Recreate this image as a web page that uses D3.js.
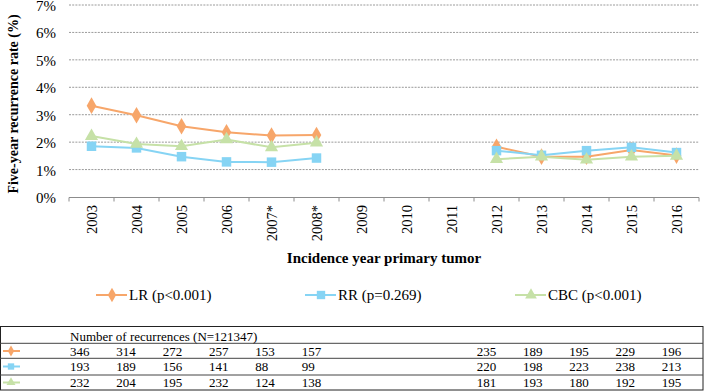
<!DOCTYPE html>
<html><head><meta charset="utf-8">
<script src="https://cdn.jsdelivr.net/npm/d3@7"></script>
<style>body{margin:0;background:#fff}svg{display:block}</style>
</head><body><svg id="c" width="708" height="391" font-family="Liberation Serif, Times New Roman, Times, DejaVu Serif, serif"></svg>
<script>
const years = ["2003","2004","2005","2006","2007*","2008*","2009","2010","2011","2012","2013","2014","2015","2016"];
const yTicks = [0,0.01,0.02,0.03,0.04,0.05,0.06,0.07];
const lrRate  = [3.33,2.98,2.58,2.36,2.24,2.26,null,null,null,1.83,1.47,1.47,1.71,1.51];
const rrRate  = [1.85,1.79,1.47,1.28,1.27,1.42,null,null,null,1.69,1.52,1.69,1.81,1.62];
const cbcRate = [2.22,1.93,1.85,2.10,1.81,1.98,null,null,null,1.38,1.47,1.36,1.47,1.50];
const lrCount  = [346,314,272,257,153,157,null,null,null,235,189,195,229,196];
const rrCount  = [193,189,156,141,88,99,null,null,null,220,198,223,238,213];
const cbcCount = [232,204,195,232,124,138,null,null,null,181,193,180,192,195];
const seriesNames = ["LR (p<0.001)","RR (p=0.269)","CBC (p<0.001)"];
const tableTitle = "Number of recurrences (N=121347)";
const colors = ["#F7A66A","#86D4F4","#C6E1A7"];
const shapes = [d3.symbolDiamond, d3.symbolSquare, d3.symbolTriangle];
const rates = [lrRate, rrRate, cbcRate];
const counts = [lrCount, rrCount, cbcCount];

const svg = d3.select("#c");
const x = d3.scaleBand().domain(years).range([69,699]).padding(0);
const y = d3.scaleLinear().domain([0,0.07]).range([197,5]);

// gridlines
svg.append("g").selectAll("line").data(yTicks.slice(1)).join("line")
  .attr("x1",69).attr("x2",699).attr("y1",d=>y(d)).attr("y2",d=>y(d))
  .attr("stroke","#9a9a9a").attr("stroke-width",1).attr("stroke-dasharray","2,1.2");

// y labels
svg.append("g").selectAll("text").data(yTicks).join("text")
  .attr("x",56).attr("y",d=>y(d)).attr("dy","0.4em").attr("text-anchor","end")
  .attr("font-size",15).text(d=>d3.format(".0%")(d));

// x axis
const xa = svg.append("g").attr("transform","translate(0,197.5)");
xa.append("line").attr("x1",69).attr("x2",699).attr("stroke","#8c8c8c");
xa.selectAll("line.t").data(d3.range(years.length+1)).join("line").attr("class","t")
  .attr("x1",i=>69+i*x.bandwidth()).attr("x2",i=>69+i*x.bandwidth()).attr("y1",0).attr("y2",4)
  .attr("stroke","#8c8c8c");
svg.append("g").selectAll("text").data(years).join("text")
  .attr("transform",d=>`translate(${x(d)+x.bandwidth()/2},205) rotate(-90)`)
  .attr("dy","0.35em").attr("text-anchor","end").attr("font-size",14.5).text(d=>d);

// titles
svg.append("text").attr("x",384).attr("y",263).attr("text-anchor","middle")
  .attr("font-size",15).attr("font-weight","bold").text("Incidence year primary tumor");
svg.append("text").attr("transform","translate(13,104) rotate(-90)").attr("dy","0.35em")
  .attr("text-anchor","middle").attr("font-size",14).attr("font-weight","bold")
  .text("Five-year recurrence rate (%)");

// series
const cx = i => x(years[i]) + x.bandwidth()/2;
rates.forEach((r,s)=>{
  const pts = r.map((v,i)=>({i,v}));
  const line = d3.line().defined(d=>d.v!==null).x(d=>cx(d.i)).y(d=>y(d.v/100));
  svg.append("path").datum(pts).attr("d",line).attr("fill","none")
    .attr("stroke",colors[s]).attr("stroke-width",2);
  svg.append("g").selectAll("path").data(pts.filter(d=>d.v!==null)).join("path")
    .attr("transform",d=>`translate(${cx(d.i)},${y(d.v/100)})`)
    .attr("d",d3.symbol().type(shapes[s]).size(s===1?90:(s===0?80:75)))
    .attr("fill",colors[s]);
});

// legend
const legX = [96,305,515];
seriesNames.forEach((n,s)=>{
  const g = svg.append("g").attr("transform",`translate(${legX[s]},295)`);
  g.append("line").attr("x1",0).attr("x2",31).attr("stroke",colors[s]).attr("stroke-width",2);
  g.append("path").attr("transform","translate(16,0)").attr("d",d3.symbol().type(shapes[s]).size(s===1?70:60)).attr("fill",colors[s]);
  g.append("text").attr("x",33).attr("y",0).attr("dy","0.35em").attr("font-size",15).text(n);
});

// table
const rowLines = [343.3,358.3,375];
svg.append("rect").attr("x",0.5).attr("y",326.5).attr("width",702.5).attr("height",63.5)
  .attr("fill","none").attr("stroke","#222");
svg.append("g").selectAll("line").data(rowLines).join("line")
  .attr("x1",0).attr("x2",703).attr("y1",d=>d).attr("y2",d=>d).attr("stroke","#444");
svg.append("text").attr("x",70).attr("y",340.5).attr("font-size",13).text(tableTitle);
const colX = d3.scaleLinear().domain([0,5,9,13]).range([70,301.7,476.8,661.7]);
const rowBase = [355.5,371,387];
counts.forEach((c,s)=>{
  const g = svg.append("g");
  g.append("line").attr("x1",3).attr("x2",20).attr("y1",rowBase[s]-4.5).attr("y2",rowBase[s]-4.5)
    .attr("stroke",colors[s]).attr("stroke-width",2);
  g.append("path").attr("transform",`translate(11,${rowBase[s]-4.5})`)
    .attr("d",d3.symbol().type(shapes[s]).size(s===1?40:35)).attr("fill",colors[s]);
  g.selectAll("text").data(c.map((v,i)=>({v,i})).filter(d=>d.v!==null)).join("text")
    .attr("x",d=>colX(d.i)).attr("y",rowBase[s]).attr("font-size",13).text(d=>d.v);
});
</script></body></html>
